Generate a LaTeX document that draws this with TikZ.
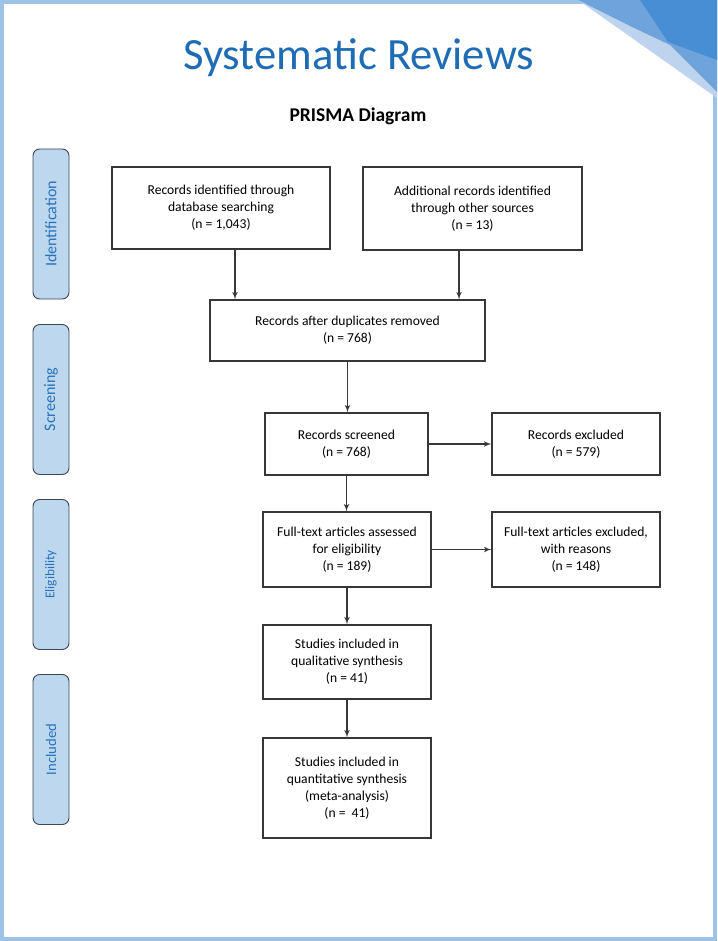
\documentclass[tikz,border=0pt]{standalone}
\usepackage{fontspec}
\setmainfont{Carlito}
\usetikzlibrary{arrows,positioning,calc}

\definecolor{frameblue}{RGB}{157,195,230}
\definecolor{cornerlight}{RGB}{190,212,238}
\definecolor{cornermid}{RGB}{111,163,220}
\definecolor{cornerdark}{RGB}{72,142,212}
\definecolor{titleblue}{RGB}{30,108,180}
\definecolor{tabfill}{RGB}{189,215,238}
\definecolor{tabgray}{RGB}{60,70,82}
\definecolor{tabblue}{RGB}{40,114,186}
\definecolor{boxgray}{RGB}{55,55,55}

\begin{document}
\begin{tikzpicture}[
        ->,>=latex', x=0.75pt, y=-0.75pt,
        line width=0.9pt,
        every edge/.append style={draw=boxgray,line width=0.9pt},
        font=\fontsize{10.2}{12.75}\selectfont
    ]

    \tikzstyle{block} = [rectangle,draw=boxgray,align=center,line width=0.9pt]
    \tikzstyle{phase} = [rectangle,rounded corners=5pt,draw=tabgray,fill=tabfill,
        text=tabblue,rotate=90,minimum width=112.5pt,minimum height=27pt,line width=0.7pt]

    \useasboundingbox (0,0) rectangle (717,941);

    % page frame and corner
    \draw[-,frameblue,line width=3pt] (2,2) rectangle (715,939);
    \fill[cornerlight] (578,0) -- (717,0) -- (717,98) -- cycle;
    \fill[cornermid] (578,0) -- (717,0) -- (717,92) -- (670,45) -- (630,26) -- cycle;
    \fill[cornerdark] (640,0) -- (717,0) -- (717,60) -- (668,42) -- cycle;

    % headings
    \node[anchor=base,text=titleblue,font=\fontsize{33.5}{40}\selectfont] (title) at (358.5,70) {Systematic Reviews};
    \node[anchor=base,font=\fontsize{14.6}{17}\selectfont\bfseries] (prisma) at (358,122) {PRISMA Diagram};

    % phases
    \node[phase,font=\fontsize{12}{14}\selectfont] (ident) at (51,224) {Identification};
    \node[phase,font=\fontsize{12}{14}\selectfont] (screen) at (51,399.5) {Screening};
    \node[phase,font=\fontsize{10}{12}\selectfont] (elig) at (51,574.5) {Eligibility};
    \node[phase,font=\fontsize{11}{13}\selectfont] (incl) at (51,749.5) {Included};

    % flow
    \node[block,minimum width=163.5pt,minimum height=61.5pt] (records) at (221,208)
        {Records identified through\\database searching\\(n = 1,043)};
    \node[block,minimum width=164.25pt,minimum height=62.25pt] (additional) at (472.5,208.5)
        {Additional records identified\\through other sources\\(n = 13)};
    \node[block,minimum width=206.25pt,minimum height=45.75pt] (duplicates) at (347.5,330.5)
        {Records after duplicates removed\\(n = 768)};
    \node[block,minimum width=122.25pt,minimum height=46.5pt] (screened) at (346.5,444)
        {Records screened\\(n = 768)};
    \node[block,minimum width=126pt,minimum height=46.5pt] (excluded) at (576,444)
        {Records excluded\\(n = 579)};
    \node[block,minimum width=126pt,minimum height=56.25pt] (fulltext) at (347,549.5)
        {Full-text articles assessed\\for eligibility\\(n = 189)};
    \node[block,minimum width=126pt,minimum height=56.25pt] (fulltextexcl) at (576,549.5)
        {Full-text articles excluded,\\with reasons\\(n = 148)};
    \node[block,minimum width=126pt,minimum height=55.5pt] (qualitative) at (347,662)
        {Studies included in\\qualitative synthesis\\(n = 41)};
    \node[block,minimum width=126pt,minimum height=75pt] (quantitative) at (347,788)
        {Studies included in\\quantitative synthesis\\(meta-analysis)\\(n =~ 41)};

    \path[]
        ([xshift=10.5pt]records.south) edge ([xshift=10.5pt]records.south |- duplicates.north)
        ([xshift=-10.1pt]additional.south) edge ([xshift=-10.1pt]additional.south |- duplicates.north)
        (duplicates.south) edge (duplicates.south |- screened.north)
        (screened) edge (excluded)
        (screened.south) edge (screened.south |- fulltext.north)
        (fulltext) edge (fulltextexcl)
        (fulltext) edge (qualitative)
        (qualitative) edge (quantitative)
    ;

\end{tikzpicture}
\end{document}
